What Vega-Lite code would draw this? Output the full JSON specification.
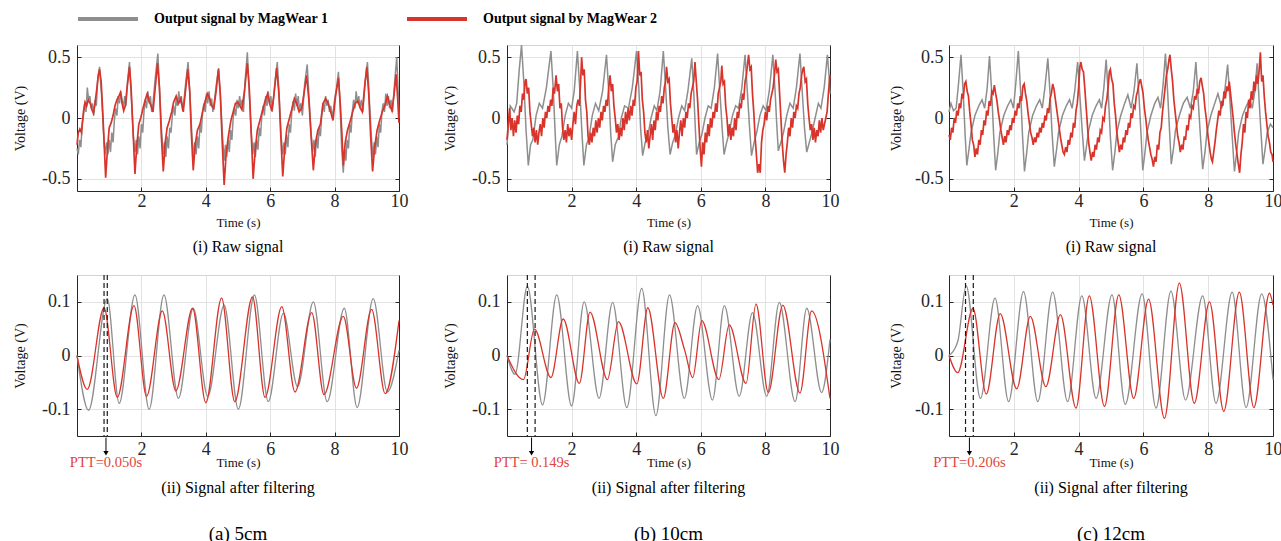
{
"$schema": "https://vega.github.io/schema/vega-lite/v6.json",
"autosize": {"type": "none"},
"padding": {"left": 77, "top": 45, "right": 1204, "bottom": 496},
"config": {
 "font": "Liberation Serif",
 "view": {"stroke": "#d4d4d4", "strokeWidth": 1},
 "range": {"category": ["#8e8e8e", "#d8342b"]},
 "axis": {"labelFont": "Liberation Serif", "labelFontSize": 18, "labelColor": "#262626", "labelFlush": false, "titleFont": "Liberation Serif", "titleFontWeight": "normal", "titleColor": "#111111", "titleFontSize": 13, "domainColor": "#262626", "domainWidth": 1, "tickColor": "#262626", "tickSize": -4, "gridColor": "#e2e2e2", "gridWidth": 1, "labelPadding": 11},
 "axisY": {"titleFontSize": 14, "titlePadding": 14},
 "title": {"orient": "bottom", "anchor": "middle", "frame": "group", "font": "Liberation Serif", "fontSize": 16, "fontWeight": "normal", "color": "#000000", "offset": 10, "subtitleFont": "Liberation Serif", "subtitleFontSize": 19, "subtitleColor": "#000000", "subtitlePadding": 29},
 "legend": {"labelFont": "Liberation Serif", "labelFontSize": 14, "labelFontWeight": "bold", "labelColor": "#000000", "symbolStrokeWidth": 4, "symbolSize": 3600, "symbolType": "stroke", "labelOffset": 14, "columnPadding": 70, "labelLimit": 400, "padding": 0}
},
"datasets": {
"aR1": [{"t":0,"v":-0.25},{"t":0.04,"v":-0.3},{"t":0.08,"v":-0.18},{"t":0.12,"v":-0.24},{"t":0.16,"v":-0.05},{"t":0.2,"v":0.02},{"t":0.24,"v":0.12},{"t":0.28,"v":0.05},{"t":0.32,"v":0.25},{"t":0.36,"v":0.15},{"t":0.4,"v":0.18},{"t":0.44,"v":0.08},{"t":0.48,"v":0.12},{"t":0.52,"v":0.02},{"t":0.56,"v":0.15},{"t":0.6,"v":0.1},{"t":0.64,"v":0.3},{"t":0.7,"v":0.42},{"t":0.76,"v":0.2},{"t":0.82,"v":-0.1},{"t":0.87,"v":-0.3},{"t":0.92,"v":-0.2},{"t":0.96,"v":-0.3},{"t":1,"v":-0.18},{"t":1.04,"v":-0.28},{"t":1.08,"v":-0.12},{"t":1.12,"v":-0.2},{"t":1.16,"v":-0.02},{"t":1.2,"v":0.08},{"t":1.24,"v":0.02},{"t":1.28,"v":0.18},{"t":1.32,"v":0.12},{"t":1.36,"v":0.22},{"t":1.4,"v":0.15},{"t":1.44,"v":0.08},{"t":1.48,"v":0.18},{"t":1.52,"v":0.1},{"t":1.57,"v":0.3},{"t":1.63,"v":0.46},{"t":1.69,"v":0.15},{"t":1.75,"v":-0.15},{"t":1.8,"v":-0.28},{"t":1.84,"v":-0.18},{"t":1.88,"v":-0.3},{"t":1.92,"v":-0.15},{"t":1.96,"v":-0.25},{"t":2,"v":-0.05},{"t":2.04,"v":-0.12},{"t":2.08,"v":0.05},{"t":2.12,"v":0.15},{"t":2.16,"v":0.08},{"t":2.2,"v":0.22},{"t":2.24,"v":0.12},{"t":2.28,"v":0.18},{"t":2.32,"v":0.05},{"t":2.36,"v":0.12},{"t":2.42,"v":0.3},{"t":2.51,"v":0.53},{"t":2.57,"v":0.2},{"t":2.63,"v":-0.12},{"t":2.68,"v":-0.3},{"t":2.72,"v":-0.2},{"t":2.76,"v":-0.32},{"t":2.8,"v":-0.15},{"t":2.84,"v":-0.25},{"t":2.88,"v":-0.08},{"t":2.92,"v":-0.12},{"t":2.96,"v":0.02},{"t":3,"v":0.1},{"t":3.04,"v":0.02},{"t":3.08,"v":0.16},{"t":3.12,"v":0.1},{"t":3.16,"v":0.22},{"t":3.2,"v":0.12},{"t":3.24,"v":0.18},{"t":3.28,"v":0.06},{"t":3.32,"v":0.14},{"t":3.38,"v":0.3},{"t":3.45,"v":0.46},{"t":3.51,"v":0.18},{"t":3.57,"v":-0.15},{"t":3.62,"v":-0.32},{"t":3.66,"v":-0.2},{"t":3.7,"v":-0.3},{"t":3.74,"v":-0.15},{"t":3.78,"v":-0.25},{"t":3.82,"v":-0.05},{"t":3.86,"v":-0.12},{"t":3.9,"v":0.05},{"t":3.94,"v":0.12},{"t":3.98,"v":0.05},{"t":4.02,"v":0.2},{"t":4.06,"v":0.12},{"t":4.1,"v":0.22},{"t":4.14,"v":0.1},{"t":4.18,"v":0.16},{"t":4.22,"v":0.05},{"t":4.27,"v":0.15},{"t":4.33,"v":0.28},{"t":4.4,"v":0.41},{"t":4.46,"v":0.15},{"t":4.52,"v":-0.15},{"t":4.57,"v":-0.35},{"t":4.61,"v":-0.22},{"t":4.65,"v":-0.32},{"t":4.69,"v":-0.18},{"t":4.73,"v":-0.28},{"t":4.77,"v":-0.1},{"t":4.81,"v":-0.18},{"t":4.85,"v":0},{"t":4.89,"v":0.08},{"t":4.93,"v":0.02},{"t":4.97,"v":0.15},{"t":5.01,"v":0.08},{"t":5.05,"v":0.18},{"t":5.09,"v":0.1},{"t":5.13,"v":0.15},{"t":5.17,"v":0.05},{"t":5.22,"v":0.3},{"t":5.29,"v":0.54},{"t":5.35,"v":0.2},{"t":5.41,"v":-0.12},{"t":5.46,"v":-0.3},{"t":5.5,"v":-0.2},{"t":5.54,"v":-0.32},{"t":5.58,"v":-0.18},{"t":5.62,"v":-0.26},{"t":5.66,"v":-0.08},{"t":5.7,"v":-0.15},{"t":5.74,"v":0.02},{"t":5.78,"v":0.1},{"t":5.82,"v":0.02},{"t":5.86,"v":0.18},{"t":5.9,"v":0.1},{"t":5.94,"v":0.22},{"t":5.98,"v":0.12},{"t":6.02,"v":0.18},{"t":6.06,"v":0.05},{"t":6.1,"v":0.14},{"t":6.15,"v":0.3},{"t":6.22,"v":0.46},{"t":6.28,"v":0.18},{"t":6.34,"v":-0.15},{"t":6.39,"v":-0.3},{"t":6.43,"v":-0.2},{"t":6.47,"v":-0.3},{"t":6.51,"v":-0.14},{"t":6.55,"v":-0.24},{"t":6.59,"v":-0.05},{"t":6.63,"v":-0.12},{"t":6.67,"v":0.05},{"t":6.71,"v":0.14},{"t":6.75,"v":0.06},{"t":6.79,"v":0.2},{"t":6.83,"v":0.1},{"t":6.87,"v":0.18},{"t":6.91,"v":0.06},{"t":6.95,"v":0.12},{"t":7,"v":0.02},{"t":7.07,"v":0.28},{"t":7.15,"v":0.44},{"t":7.21,"v":0.15},{"t":7.27,"v":-0.12},{"t":7.32,"v":-0.28},{"t":7.36,"v":-0.18},{"t":7.4,"v":-0.32},{"t":7.44,"v":-0.15},{"t":7.48,"v":-0.25},{"t":7.52,"v":-0.08},{"t":7.56,"v":-0.15},{"t":7.6,"v":0.02},{"t":7.64,"v":0.12},{"t":7.68,"v":0.05},{"t":7.72,"v":0.18},{"t":7.76,"v":0.1},{"t":7.8,"v":0.15},{"t":7.84,"v":0.05},{"t":7.88,"v":0.1},{"t":7.93,"v":0},{"t":8,"v":0.15},{"t":8.06,"v":0.25},{"t":8.12,"v":0.38},{"t":8.17,"v":0.1},{"t":8.22,"v":-0.25},{"t":8.27,"v":-0.45},{"t":8.31,"v":-0.25},{"t":8.35,"v":-0.35},{"t":8.39,"v":-0.18},{"t":8.43,"v":-0.25},{"t":8.47,"v":-0.05},{"t":8.51,"v":-0.12},{"t":8.55,"v":0.05},{"t":8.59,"v":0.15},{"t":8.63,"v":0.08},{"t":8.67,"v":0.22},{"t":8.71,"v":0.12},{"t":8.75,"v":0.18},{"t":8.79,"v":0.08},{"t":8.83,"v":0.15},{"t":8.88,"v":0.05},{"t":8.95,"v":0.3},{"t":9.02,"v":0.46},{"t":9.08,"v":0.15},{"t":9.14,"v":-0.15},{"t":9.19,"v":-0.32},{"t":9.23,"v":-0.2},{"t":9.27,"v":-0.3},{"t":9.31,"v":-0.15},{"t":9.35,"v":-0.24},{"t":9.39,"v":-0.05},{"t":9.43,"v":-0.12},{"t":9.47,"v":0.05},{"t":9.51,"v":0.12},{"t":9.55,"v":0.05},{"t":9.59,"v":0.2},{"t":9.63,"v":0.1},{"t":9.67,"v":0.18},{"t":9.71,"v":0.08},{"t":9.75,"v":0.15},{"t":9.8,"v":0.05},{"t":9.86,"v":0.28},{"t":9.93,"v":0.5},{"t":9.97,"v":0.25},{"t":10,"v":0}],
"aR2": [{"t":0,"v":-0.22},{"t":0.04,"v":-0.12},{"t":0.09,"v":-0.09},{"t":0.14,"v":-0.12},{"t":0.2,"v":0.05},{"t":0.25,"v":0.13},{"t":0.3,"v":0.1},{"t":0.35,"v":0.15},{"t":0.41,"v":0.12},{"t":0.46,"v":0.07},{"t":0.51,"v":0.04},{"t":0.56,"v":0.12},{"t":0.62,"v":0.25},{"t":0.66,"v":0.35},{"t":0.7,"v":0.4},{"t":0.75,"v":0.3},{"t":0.8,"v":0.05},{"t":0.85,"v":-0.25},{"t":0.89,"v":-0.49},{"t":0.94,"v":-0.28},{"t":1,"v":-0.08},{"t":1.06,"v":-0.04},{"t":1.12,"v":0.02},{"t":1.18,"v":0.1},{"t":1.24,"v":0.15},{"t":1.3,"v":0.18},{"t":1.35,"v":0.21},{"t":1.4,"v":0.12},{"t":1.45,"v":0.06},{"t":1.5,"v":0.1},{"t":1.56,"v":0.26},{"t":1.63,"v":0.42},{"t":1.68,"v":0.25},{"t":1.74,"v":-0.1},{"t":1.8,"v":-0.46},{"t":1.85,"v":-0.25},{"t":1.92,"v":-0.05},{"t":1.98,"v":0},{"t":2.05,"v":0.08},{"t":2.12,"v":0.15},{"t":2.18,"v":0.2},{"t":2.24,"v":0.14},{"t":2.3,"v":0.1},{"t":2.36,"v":0.05},{"t":2.42,"v":0.22},{"t":2.5,"v":0.45},{"t":2.56,"v":0.25},{"t":2.62,"v":-0.15},{"t":2.68,"v":-0.44},{"t":2.74,"v":-0.2},{"t":2.8,"v":-0.08},{"t":2.87,"v":-0.02},{"t":2.94,"v":0.05},{"t":3,"v":0.13},{"t":3.08,"v":0.18},{"t":3.15,"v":0.12},{"t":3.22,"v":0.16},{"t":3.3,"v":0.05},{"t":3.36,"v":0.2},{"t":3.44,"v":0.4},{"t":3.5,"v":0.22},{"t":3.55,"v":-0.12},{"t":3.61,"v":-0.43},{"t":3.67,"v":-0.22},{"t":3.74,"v":-0.1},{"t":3.82,"v":-0.05},{"t":3.9,"v":0.05},{"t":3.98,"v":0.14},{"t":4.05,"v":0.2},{"t":4.12,"v":0.16},{"t":4.18,"v":0.1},{"t":4.25,"v":0.08},{"t":4.32,"v":0.22},{"t":4.39,"v":0.4},{"t":4.45,"v":0.2},{"t":4.51,"v":-0.2},{"t":4.57,"v":-0.55},{"t":4.63,"v":-0.3},{"t":4.7,"v":-0.15},{"t":4.78,"v":-0.02},{"t":4.85,"v":0.05},{"t":4.92,"v":0.12},{"t":5,"v":0.13},{"t":5.06,"v":0.1},{"t":5.12,"v":0.07},{"t":5.2,"v":0.22},{"t":5.29,"v":0.45},{"t":5.35,"v":0.25},{"t":5.41,"v":-0.12},{"t":5.47,"v":-0.5},{"t":5.53,"v":-0.28},{"t":5.6,"v":-0.1},{"t":5.68,"v":-0.02},{"t":5.76,"v":0.06},{"t":5.84,"v":0.14},{"t":5.92,"v":0.2},{"t":5.98,"v":0.12},{"t":6.05,"v":0.06},{"t":6.12,"v":0.2},{"t":6.2,"v":0.41},{"t":6.27,"v":0.2},{"t":6.33,"v":-0.15},{"t":6.39,"v":-0.48},{"t":6.45,"v":-0.25},{"t":6.52,"v":-0.08},{"t":6.6,"v":0},{"t":6.68,"v":0.08},{"t":6.75,"v":0.16},{"t":6.82,"v":0.12},{"t":6.9,"v":0.05},{"t":6.98,"v":0.08},{"t":7.06,"v":0.22},{"t":7.13,"v":0.35},{"t":7.2,"v":0.15},{"t":7.27,"v":-0.15},{"t":7.34,"v":-0.43},{"t":7.4,"v":-0.22},{"t":7.48,"v":-0.1},{"t":7.56,"v":-0.05},{"t":7.64,"v":0.12},{"t":7.72,"v":0.16},{"t":7.8,"v":0.12},{"t":7.88,"v":0.05},{"t":7.95,"v":-0.02},{"t":8.03,"v":0.18},{"t":8.12,"v":0.33},{"t":8.18,"v":0.1},{"t":8.23,"v":-0.15},{"t":8.27,"v":-0.39},{"t":8.33,"v":-0.2},{"t":8.4,"v":-0.1},{"t":8.48,"v":-0.03},{"t":8.56,"v":0.05},{"t":8.64,"v":0.12},{"t":8.72,"v":0.14},{"t":8.8,"v":0.08},{"t":8.86,"v":0.05},{"t":8.93,"v":0.25},{"t":9,"v":0.42},{"t":9.06,"v":0.2},{"t":9.12,"v":-0.15},{"t":9.18,"v":-0.44},{"t":9.24,"v":-0.25},{"t":9.32,"v":-0.1},{"t":9.4,"v":-0.02},{"t":9.48,"v":0.05},{"t":9.56,"v":0.1},{"t":9.64,"v":0.18},{"t":9.72,"v":0.1},{"t":9.78,"v":0.06},{"t":9.85,"v":0.2},{"t":9.91,"v":0.36},{"t":9.96,"v":0.15},{"t":10,"v":-0.04}],
"aF1": [{"t":0,"v":0},{"t":0.36,"v":-0.102},{"t":0.94,"v":0.106},{"t":1.31,"v":-0.089},{"t":1.8,"v":0.113},{"t":2.24,"v":-0.1},{"t":2.7,"v":0.113},{"t":3.15,"v":-0.08},{"t":3.61,"v":0.088},{"t":4.06,"v":-0.076},{"t":4.57,"v":0.094},{"t":5.01,"v":-0.1},{"t":5.51,"v":0.113},{"t":5.94,"v":-0.086},{"t":6.41,"v":0.079},{"t":6.85,"v":-0.058},{"t":7.34,"v":0.1},{"t":7.77,"v":-0.086},{"t":8.3,"v":0.088},{"t":8.7,"v":-0.097},{"t":9.2,"v":0.106},{"t":9.64,"v":-0.068},{"t":10,"v":0.01}],
"aF2": [{"t":0,"v":0},{"t":0.32,"v":-0.063},{"t":0.84,"v":0.089},{"t":1.25,"v":-0.078},{"t":1.77,"v":0.093},{"t":2.16,"v":-0.076},{"t":2.65,"v":0.083},{"t":3.07,"v":-0.066},{"t":3.59,"v":0.088},{"t":4,"v":-0.088},{"t":4.49,"v":0.107},{"t":4.9,"v":-0.086},{"t":5.45,"v":0.109},{"t":5.84,"v":-0.078},{"t":6.36,"v":0.091},{"t":6.77,"v":-0.068},{"t":7.29,"v":0.08},{"t":7.67,"v":-0.073},{"t":8.27,"v":0.073},{"t":8.68,"v":-0.061},{"t":9.15,"v":0.086},{"t":9.57,"v":-0.071},{"t":10,"v":0.065}],
"aD": [{"t":0.84},{"t":0.94}],
"aP": [{"t":0.9,"label":"PTT=0.050s"}],
"bR1": [{"t":0,"v":-0.22},{"t":0.05,"v":-0.05},{"t":0.1,"v":0.1},{"t":0.15,"v":0.08},{"t":0.22,"v":0.05},{"t":0.3,"v":0.12},{"t":0.38,"v":0.4},{"t":0.45,"v":0.6},{"t":0.52,"v":0.3},{"t":0.59,"v":-0.1},{"t":0.66,"v":-0.39},{"t":0.73,"v":-0.22},{"t":0.8,"v":-0.18},{"t":0.9,"v":0.02},{"t":1,"v":0.12},{"t":1.1,"v":0.08},{"t":1.22,"v":0.25},{"t":1.36,"v":0.55},{"t":1.43,"v":0.25},{"t":1.49,"v":-0.12},{"t":1.54,"v":-0.39},{"t":1.62,"v":-0.22},{"t":1.7,"v":-0.15},{"t":1.8,"v":0.02},{"t":1.9,"v":0.12},{"t":2,"v":0.08},{"t":2.08,"v":0.22},{"t":2.18,"v":0.55},{"t":2.25,"v":0.25},{"t":2.32,"v":-0.12},{"t":2.38,"v":-0.39},{"t":2.46,"v":-0.22},{"t":2.54,"v":-0.16},{"t":2.64,"v":0.02},{"t":2.74,"v":0.12},{"t":2.84,"v":0.06},{"t":2.96,"v":0.22},{"t":3.08,"v":0.52},{"t":3.15,"v":0.22},{"t":3.21,"v":-0.12},{"t":3.27,"v":-0.36},{"t":3.35,"v":-0.22},{"t":3.44,"v":-0.16},{"t":3.54,"v":0},{"t":3.64,"v":0.1},{"t":3.76,"v":0.08},{"t":3.88,"v":0.25},{"t":4.01,"v":0.55},{"t":4.08,"v":0.25},{"t":4.14,"v":-0.1},{"t":4.2,"v":-0.31},{"t":4.28,"v":-0.2},{"t":4.36,"v":-0.15},{"t":4.46,"v":0},{"t":4.56,"v":0.1},{"t":4.64,"v":0.06},{"t":4.74,"v":0.22},{"t":4.84,"v":0.55},{"t":4.91,"v":0.25},{"t":4.98,"v":-0.08},{"t":5.05,"v":-0.3},{"t":5.13,"v":-0.2},{"t":5.21,"v":-0.14},{"t":5.31,"v":0},{"t":5.41,"v":0.1},{"t":5.5,"v":0.06},{"t":5.6,"v":0.22},{"t":5.72,"v":0.49},{"t":5.78,"v":0.22},{"t":5.83,"v":-0.08},{"t":5.87,"v":-0.3},{"t":5.95,"v":-0.2},{"t":6.03,"v":-0.14},{"t":6.13,"v":0},{"t":6.23,"v":0.1},{"t":6.32,"v":0.08},{"t":6.42,"v":0.25},{"t":6.52,"v":0.53},{"t":6.59,"v":0.22},{"t":6.66,"v":-0.08},{"t":6.72,"v":-0.3},{"t":6.8,"v":-0.2},{"t":6.88,"v":-0.12},{"t":6.98,"v":0.02},{"t":7.08,"v":0.1},{"t":7.17,"v":0.08},{"t":7.27,"v":0.25},{"t":7.37,"v":0.52},{"t":7.44,"v":0.22},{"t":7.51,"v":-0.08},{"t":7.57,"v":-0.31},{"t":7.65,"v":-0.2},{"t":7.73,"v":-0.12},{"t":7.83,"v":0.02},{"t":7.93,"v":0.1},{"t":8.02,"v":0.06},{"t":8.12,"v":0.22},{"t":8.23,"v":0.52},{"t":8.3,"v":0.22},{"t":8.35,"v":-0.05},{"t":8.4,"v":-0.27},{"t":8.48,"v":-0.2},{"t":8.56,"v":-0.12},{"t":8.66,"v":0.02},{"t":8.76,"v":0.12},{"t":8.86,"v":0.08},{"t":8.96,"v":0.25},{"t":9.07,"v":0.53},{"t":9.14,"v":0.22},{"t":9.21,"v":-0.08},{"t":9.28,"v":-0.28},{"t":9.36,"v":-0.2},{"t":9.44,"v":-0.12},{"t":9.54,"v":0},{"t":9.64,"v":0.12},{"t":9.72,"v":0.08},{"t":9.82,"v":0.25},{"t":9.92,"v":0.52},{"t":9.97,"v":0.35},{"t":10,"v":0.2}],
"bR2": [{"t":0,"v":-0.18},{"t":0.04,"v":-0.05},{"t":0.08,"v":0.08},{"t":0.12,"v":-0.1},{"t":0.16,"v":0},{"t":0.2,"v":-0.15},{"t":0.24,"v":-0.02},{"t":0.28,"v":-0.12},{"t":0.32,"v":0.02},{"t":0.36,"v":-0.05},{"t":0.4,"v":0.1},{"t":0.44,"v":0.05},{"t":0.48,"v":0.2},{"t":0.52,"v":0.15},{"t":0.56,"v":0.3},{"t":0.59,"v":0.32},{"t":0.63,"v":0.2},{"t":0.67,"v":0.25},{"t":0.71,"v":0.05},{"t":0.75,"v":-0.05},{"t":0.79,"v":-0.15},{"t":0.83,"v":-0.08},{"t":0.87,"v":-0.2},{"t":0.91,"v":-0.1},{"t":0.95,"v":-0.22},{"t":0.99,"v":-0.12},{"t":1.03,"v":-0.05},{"t":1.07,"v":-0.15},{"t":1.11,"v":0},{"t":1.15,"v":-0.08},{"t":1.19,"v":0.05},{"t":1.23,"v":0},{"t":1.27,"v":0.1},{"t":1.31,"v":0.05},{"t":1.35,"v":0.15},{"t":1.39,"v":0.1},{"t":1.43,"v":0.25},{"t":1.47,"v":0.2},{"t":1.52,"v":0.35},{"t":1.56,"v":0.22},{"t":1.6,"v":0.28},{"t":1.64,"v":0.08},{"t":1.68,"v":0.12},{"t":1.72,"v":-0.08},{"t":1.76,"v":-0.18},{"t":1.8,"v":-0.1},{"t":1.84,"v":-0.2},{"t":1.88,"v":-0.05},{"t":1.92,"v":-0.15},{"t":1.96,"v":-0.08},{"t":2,"v":-0.18},{"t":2.04,"v":-0.05},{"t":2.08,"v":0.05},{"t":2.12,"v":-0.05},{"t":2.16,"v":0.1},{"t":2.2,"v":0.15},{"t":2.24,"v":0.1},{"t":2.28,"v":0.3},{"t":2.31,"v":0.5},{"t":2.35,"v":0.35},{"t":2.39,"v":0.4},{"t":2.43,"v":0.15},{"t":2.47,"v":0.05},{"t":2.51,"v":-0.15},{"t":2.55,"v":-0.22},{"t":2.59,"v":-0.12},{"t":2.63,"v":-0.2},{"t":2.67,"v":-0.08},{"t":2.71,"v":-0.15},{"t":2.75,"v":-0.02},{"t":2.79,"v":-0.12},{"t":2.83,"v":0},{"t":2.87,"v":-0.08},{"t":2.91,"v":0.05},{"t":2.95,"v":-0.02},{"t":2.99,"v":0.1},{"t":3.03,"v":0.05},{"t":3.07,"v":0.15},{"t":3.11,"v":0.1},{"t":3.15,"v":0.25},{"t":3.19,"v":0.35},{"t":3.23,"v":0.22},{"t":3.27,"v":0.28},{"t":3.31,"v":0.1},{"t":3.35,"v":0},{"t":3.39,"v":-0.12},{"t":3.43,"v":-0.05},{"t":3.47,"v":-0.18},{"t":3.51,"v":-0.08},{"t":3.55,"v":-0.15},{"t":3.59,"v":0},{"t":3.63,"v":-0.1},{"t":3.67,"v":0.05},{"t":3.71,"v":-0.05},{"t":3.75,"v":0.08},{"t":3.79,"v":-0.02},{"t":3.83,"v":0.1},{"t":3.87,"v":0.02},{"t":3.91,"v":0.15},{"t":3.95,"v":0.1},{"t":3.99,"v":0.25},{"t":4.03,"v":0.3},{"t":4.07,"v":0.55},{"t":4.11,"v":0.35},{"t":4.15,"v":0.38},{"t":4.19,"v":0.15},{"t":4.23,"v":0.05},{"t":4.27,"v":-0.12},{"t":4.31,"v":-0.2},{"t":4.35,"v":-0.1},{"t":4.39,"v":-0.25},{"t":4.43,"v":-0.15},{"t":4.47,"v":-0.05},{"t":4.51,"v":-0.18},{"t":4.55,"v":-0.02},{"t":4.59,"v":-0.1},{"t":4.63,"v":0.05},{"t":4.67,"v":-0.02},{"t":4.71,"v":0.1},{"t":4.75,"v":0.05},{"t":4.79,"v":0.18},{"t":4.83,"v":0.12},{"t":4.87,"v":0.25},{"t":4.91,"v":0.3},{"t":4.94,"v":0.42},{"t":4.98,"v":0.3},{"t":5.02,"v":0.32},{"t":5.06,"v":0.12},{"t":5.1,"v":0},{"t":5.14,"v":-0.12},{"t":5.18,"v":-0.05},{"t":5.22,"v":-0.2},{"t":5.26,"v":-0.1},{"t":5.3,"v":-0.25},{"t":5.34,"v":-0.12},{"t":5.38,"v":-0.02},{"t":5.42,"v":-0.15},{"t":5.46,"v":0},{"t":5.5,"v":-0.08},{"t":5.54,"v":0.05},{"t":5.58,"v":0},{"t":5.62,"v":0.12},{"t":5.66,"v":0.08},{"t":5.7,"v":0.2},{"t":5.74,"v":0.25},{"t":5.78,"v":0.3},{"t":5.82,"v":0.46},{"t":5.86,"v":0.3},{"t":5.9,"v":0.15},{"t":5.94,"v":-0.05},{"t":5.98,"v":-0.25},{"t":6.02,"v":-0.4},{"t":6.06,"v":-0.2},{"t":6.1,"v":-0.3},{"t":6.14,"v":-0.12},{"t":6.18,"v":-0.2},{"t":6.22,"v":-0.05},{"t":6.26,"v":-0.15},{"t":6.3,"v":0},{"t":6.34,"v":-0.08},{"t":6.38,"v":0.05},{"t":6.42,"v":0},{"t":6.46,"v":0.12},{"t":6.5,"v":0.05},{"t":6.54,"v":0.2},{"t":6.58,"v":0.25},{"t":6.62,"v":0.3},{"t":6.65,"v":0.43},{"t":6.69,"v":0.28},{"t":6.73,"v":0.3},{"t":6.77,"v":0.1},{"t":6.81,"v":0},{"t":6.85,"v":-0.15},{"t":6.89,"v":-0.05},{"t":6.93,"v":-0.18},{"t":6.97,"v":-0.08},{"t":7.01,"v":-0.15},{"t":7.05,"v":0},{"t":7.09,"v":-0.1},{"t":7.13,"v":0.05},{"t":7.17,"v":0},{"t":7.21,"v":0.12},{"t":7.25,"v":0.08},{"t":7.29,"v":0.2},{"t":7.33,"v":0.15},{"t":7.37,"v":0.3},{"t":7.41,"v":0.35},{"t":7.45,"v":0.45},{"t":7.48,"v":0.52},{"t":7.52,"v":0.4},{"t":7.56,"v":0.42},{"t":7.6,"v":0.2},{"t":7.64,"v":0.05},{"t":7.68,"v":-0.15},{"t":7.72,"v":-0.3},{"t":7.76,"v":-0.45},{"t":7.8,"v":-0.38},{"t":7.84,"v":-0.45},{"t":7.88,"v":-0.2},{"t":7.92,"v":-0.1},{"t":7.96,"v":-0.05},{"t":8,"v":0.05},{"t":8.04,"v":-0.02},{"t":8.08,"v":0.1},{"t":8.12,"v":0.05},{"t":8.16,"v":0.15},{"t":8.2,"v":0.2},{"t":8.24,"v":0.25},{"t":8.28,"v":0.35},{"t":8.32,"v":0.48},{"t":8.36,"v":0.38},{"t":8.4,"v":0.4},{"t":8.44,"v":0.2},{"t":8.48,"v":0},{"t":8.52,"v":-0.2},{"t":8.56,"v":-0.35},{"t":8.6,"v":-0.45},{"t":8.64,"v":-0.3},{"t":8.68,"v":-0.2},{"t":8.72,"v":-0.08},{"t":8.76,"v":-0.15},{"t":8.8,"v":0},{"t":8.84,"v":-0.08},{"t":8.88,"v":0.05},{"t":8.92,"v":0},{"t":8.96,"v":0.1},{"t":9,"v":0.08},{"t":9.04,"v":0.2},{"t":9.08,"v":0.25},{"t":9.12,"v":0.35},{"t":9.16,"v":0.4},{"t":9.19,"v":0.42},{"t":9.23,"v":0.3},{"t":9.27,"v":0.32},{"t":9.31,"v":0.12},{"t":9.35,"v":0},{"t":9.39,"v":-0.1},{"t":9.43,"v":-0.05},{"t":9.47,"v":-0.18},{"t":9.51,"v":-0.08},{"t":9.55,"v":-0.2},{"t":9.59,"v":-0.1},{"t":9.63,"v":-0.15},{"t":9.67,"v":-0.02},{"t":9.71,"v":-0.12},{"t":9.75,"v":0},{"t":9.79,"v":-0.1},{"t":9.83,"v":-0.05},{"t":9.87,"v":0},{"t":9.91,"v":0.05},{"t":9.95,"v":0.2},{"t":10,"v":0.35}],
"bF1": [{"t":0,"v":0},{"t":0.25,"v":-0.035},{"t":0.63,"v":0.129},{"t":1.1,"v":-0.092},{"t":1.54,"v":0.113},{"t":2,"v":-0.094},{"t":2.39,"v":0.1},{"t":2.85,"v":-0.08},{"t":3.27,"v":0.099},{"t":3.71,"v":-0.097},{"t":4.17,"v":0.125},{"t":4.61,"v":-0.112},{"t":5.03,"v":0.113},{"t":5.49,"v":-0.08},{"t":5.9,"v":0.093},{"t":6.36,"v":-0.083},{"t":6.73,"v":0.093},{"t":7.19,"v":-0.076},{"t":7.6,"v":0.08},{"t":8.04,"v":-0.076},{"t":8.43,"v":0.099},{"t":8.92,"v":-0.086},{"t":9.28,"v":0.088},{"t":9.74,"v":-0.069},{"t":10,"v":0.03}],
"bF2": [{"t":0,"v":0},{"t":0.51,"v":-0.045},{"t":0.85,"v":0.049},{"t":1.36,"v":-0.041},{"t":1.74,"v":0.068},{"t":2.24,"v":-0.052},{"t":2.57,"v":0.081},{"t":3.11,"v":-0.045},{"t":3.45,"v":0.063},{"t":4.02,"v":-0.053},{"t":4.36,"v":0.089},{"t":4.84,"v":-0.08},{"t":5.2,"v":0.061},{"t":5.5,"v":0.01},{"t":5.75,"v":-0.041},{"t":6.03,"v":0.065},{"t":6.56,"v":-0.045},{"t":6.88,"v":0.057},{"t":7.4,"v":-0.052},{"t":7.71,"v":0.096},{"t":8.09,"v":-0.069},{"t":8.54,"v":0.094},{"t":9.07,"v":-0.07},{"t":9.43,"v":0.083},{"t":10,"v":-0.08}],
"bD": [{"t":0.63},{"t":0.87}],
"bP": [{"t":0.76,"label":"PTT= 0.149s"}],
"cR1": [{"t":0,"v":0.05},{"t":0.06,"v":0.12},{"t":0.14,"v":0.06},{"t":0.22,"v":0.08},{"t":0.3,"v":0.3},{"t":0.37,"v":0.52},{"t":0.44,"v":0.2},{"t":0.5,"v":-0.15},{"t":0.55,"v":-0.39},{"t":0.62,"v":-0.25},{"t":0.68,"v":-0.12},{"t":0.8,"v":0.02},{"t":0.92,"v":0.1},{"t":1.02,"v":0.15},{"t":1.1,"v":0.08},{"t":1.18,"v":0.25},{"t":1.25,"v":0.51},{"t":1.32,"v":0.2},{"t":1.38,"v":-0.15},{"t":1.44,"v":-0.43},{"t":1.51,"v":-0.28},{"t":1.57,"v":-0.12},{"t":1.69,"v":0.02},{"t":1.81,"v":0.1},{"t":1.91,"v":0.15},{"t":1.99,"v":0.08},{"t":2.06,"v":0.28},{"t":2.14,"v":0.55},{"t":2.21,"v":0.22},{"t":2.27,"v":-0.15},{"t":2.33,"v":-0.44},{"t":2.4,"v":-0.28},{"t":2.46,"v":-0.12},{"t":2.58,"v":0.02},{"t":2.7,"v":0.1},{"t":2.8,"v":0.15},{"t":2.88,"v":0.08},{"t":2.96,"v":0.25},{"t":3.05,"v":0.49},{"t":3.12,"v":0.2},{"t":3.18,"v":-0.12},{"t":3.25,"v":-0.4},{"t":3.32,"v":-0.26},{"t":3.38,"v":-0.12},{"t":3.5,"v":0.02},{"t":3.62,"v":0.1},{"t":3.72,"v":0.15},{"t":3.8,"v":0.08},{"t":3.88,"v":0.22},{"t":3.97,"v":0.46},{"t":4.04,"v":0.18},{"t":4.11,"v":-0.1},{"t":4.18,"v":-0.35},{"t":4.25,"v":-0.22},{"t":4.31,"v":-0.1},{"t":4.42,"v":0.02},{"t":4.54,"v":0.1},{"t":4.64,"v":0.15},{"t":4.71,"v":0.08},{"t":4.78,"v":0.25},{"t":4.85,"v":0.48},{"t":4.92,"v":0.18},{"t":4.98,"v":-0.15},{"t":5.05,"v":-0.43},{"t":5.12,"v":-0.28},{"t":5.18,"v":-0.12},{"t":5.3,"v":0.02},{"t":5.42,"v":0.12},{"t":5.52,"v":0.19},{"t":5.62,"v":0.08},{"t":5.71,"v":0.22},{"t":5.8,"v":0.45},{"t":5.87,"v":0.15},{"t":5.93,"v":-0.15},{"t":5.98,"v":-0.43},{"t":6.05,"v":-0.28},{"t":6.11,"v":-0.12},{"t":6.23,"v":0.02},{"t":6.35,"v":0.12},{"t":6.45,"v":0.17},{"t":6.53,"v":0.08},{"t":6.61,"v":0.28},{"t":6.68,"v":0.53},{"t":6.75,"v":0.2},{"t":6.81,"v":-0.12},{"t":6.86,"v":-0.38},{"t":6.93,"v":-0.25},{"t":6.99,"v":-0.1},{"t":7.11,"v":0.02},{"t":7.23,"v":0.12},{"t":7.35,"v":0.17},{"t":7.45,"v":0.08},{"t":7.54,"v":0.22},{"t":7.62,"v":0.46},{"t":7.69,"v":0.15},{"t":7.76,"v":-0.15},{"t":7.83,"v":-0.42},{"t":7.9,"v":-0.28},{"t":7.96,"v":-0.12},{"t":8.08,"v":0.02},{"t":8.2,"v":0.12},{"t":8.3,"v":0.2},{"t":8.42,"v":0.08},{"t":8.51,"v":0.22},{"t":8.6,"v":0.44},{"t":8.67,"v":0.15},{"t":8.74,"v":-0.15},{"t":8.81,"v":-0.44},{"t":8.88,"v":-0.28},{"t":8.94,"v":-0.12},{"t":9.06,"v":0.02},{"t":9.18,"v":0.1},{"t":9.28,"v":0.15},{"t":9.36,"v":0.08},{"t":9.44,"v":0.22},{"t":9.51,"v":0.45},{"t":9.57,"v":0.15},{"t":9.63,"v":-0.12},{"t":9.69,"v":-0.38},{"t":9.76,"v":-0.25},{"t":9.82,"v":-0.12},{"t":9.92,"v":-0.05},{"t":10,"v":-0.08}],
"cR2": [{"t":0,"v":-0.14},{"t":0.04,"v":-0.18},{"t":0.08,"v":-0.08},{"t":0.12,"v":-0.12},{"t":0.16,"v":0},{"t":0.2,"v":-0.04},{"t":0.24,"v":0.06},{"t":0.28,"v":0.02},{"t":0.32,"v":0.12},{"t":0.36,"v":0.08},{"t":0.4,"v":0.2},{"t":0.44,"v":0.16},{"t":0.48,"v":0.28},{"t":0.52,"v":0.3},{"t":0.56,"v":0.22},{"t":0.6,"v":0.18},{"t":0.64,"v":0.05},{"t":0.68,"v":-0.05},{"t":0.72,"v":-0.18},{"t":0.76,"v":-0.22},{"t":0.8,"v":-0.32},{"t":0.84,"v":-0.25},{"t":0.88,"v":-0.3},{"t":0.92,"v":-0.18},{"t":0.96,"v":-0.22},{"t":1,"v":-0.1},{"t":1.04,"v":-0.14},{"t":1.08,"v":-0.02},{"t":1.12,"v":-0.06},{"t":1.16,"v":0.06},{"t":1.2,"v":0.02},{"t":1.24,"v":0.14},{"t":1.28,"v":0.1},{"t":1.32,"v":0.22},{"t":1.36,"v":0.2},{"t":1.4,"v":0.27},{"t":1.44,"v":0.2},{"t":1.48,"v":0.14},{"t":1.52,"v":0.05},{"t":1.56,"v":-0.02},{"t":1.6,"v":-0.1},{"t":1.64,"v":-0.16},{"t":1.68,"v":-0.22},{"t":1.72,"v":-0.15},{"t":1.76,"v":-0.2},{"t":1.8,"v":-0.1},{"t":1.84,"v":-0.14},{"t":1.88,"v":-0.06},{"t":1.92,"v":-0.1},{"t":1.96,"v":0},{"t":2,"v":-0.04},{"t":2.04,"v":0.06},{"t":2.08,"v":0.02},{"t":2.12,"v":0.12},{"t":2.16,"v":0.08},{"t":2.2,"v":0.18},{"t":2.24,"v":0.14},{"t":2.28,"v":0.26},{"t":2.32,"v":0.28},{"t":2.36,"v":0.2},{"t":2.4,"v":0.14},{"t":2.44,"v":0.04},{"t":2.48,"v":-0.04},{"t":2.52,"v":-0.12},{"t":2.56,"v":-0.16},{"t":2.6,"v":-0.22},{"t":2.64,"v":-0.16},{"t":2.68,"v":-0.2},{"t":2.72,"v":-0.12},{"t":2.76,"v":-0.16},{"t":2.8,"v":-0.08},{"t":2.84,"v":-0.12},{"t":2.88,"v":-0.04},{"t":2.92,"v":-0.08},{"t":2.96,"v":0.02},{"t":3,"v":-0.02},{"t":3.04,"v":0.08},{"t":3.08,"v":0.04},{"t":3.12,"v":0.16},{"t":3.16,"v":0.2},{"t":3.2,"v":0.28},{"t":3.24,"v":0.24},{"t":3.28,"v":0.16},{"t":3.32,"v":0.08},{"t":3.36,"v":0},{"t":3.4,"v":-0.08},{"t":3.44,"v":-0.16},{"t":3.48,"v":-0.22},{"t":3.52,"v":-0.28},{"t":3.56,"v":-0.3},{"t":3.6,"v":-0.24},{"t":3.64,"v":-0.28},{"t":3.68,"v":-0.18},{"t":3.72,"v":-0.22},{"t":3.76,"v":-0.12},{"t":3.8,"v":-0.16},{"t":3.84,"v":-0.04},{"t":3.88,"v":-0.08},{"t":3.92,"v":0.06},{"t":3.96,"v":0.12},{"t":4,"v":0.25},{"t":4.04,"v":0.42},{"t":4.07,"v":0.46},{"t":4.11,"v":0.4},{"t":4.15,"v":0.38},{"t":4.19,"v":0.25},{"t":4.23,"v":0.1},{"t":4.27,"v":-0.05},{"t":4.31,"v":-0.2},{"t":4.35,"v":-0.28},{"t":4.39,"v":-0.35},{"t":4.43,"v":-0.28},{"t":4.47,"v":-0.32},{"t":4.51,"v":-0.22},{"t":4.55,"v":-0.26},{"t":4.59,"v":-0.16},{"t":4.63,"v":-0.2},{"t":4.67,"v":-0.1},{"t":4.71,"v":-0.12},{"t":4.75,"v":0},{"t":4.79,"v":-0.02},{"t":4.83,"v":0.1},{"t":4.87,"v":0.15},{"t":4.91,"v":0.25},{"t":4.95,"v":0.38},{"t":4.98,"v":0.4},{"t":5.02,"v":0.32},{"t":5.06,"v":0.28},{"t":5.1,"v":0.12},{"t":5.14,"v":0.02},{"t":5.18,"v":-0.12},{"t":5.22,"v":-0.2},{"t":5.26,"v":-0.28},{"t":5.3,"v":-0.22},{"t":5.34,"v":-0.26},{"t":5.38,"v":-0.16},{"t":5.42,"v":-0.2},{"t":5.46,"v":-0.1},{"t":5.5,"v":-0.14},{"t":5.54,"v":-0.04},{"t":5.58,"v":-0.08},{"t":5.62,"v":0.04},{"t":5.66,"v":0},{"t":5.7,"v":0.1},{"t":5.74,"v":0.08},{"t":5.78,"v":0.18},{"t":5.82,"v":0.22},{"t":5.86,"v":0.28},{"t":5.91,"v":0.32},{"t":5.95,"v":0.26},{"t":5.99,"v":0.2},{"t":6.03,"v":0.08},{"t":6.07,"v":0},{"t":6.11,"v":-0.1},{"t":6.15,"v":-0.18},{"t":6.19,"v":-0.24},{"t":6.23,"v":-0.3},{"t":6.27,"v":-0.34},{"t":6.31,"v":-0.4},{"t":6.35,"v":-0.32},{"t":6.39,"v":-0.36},{"t":6.43,"v":-0.22},{"t":6.47,"v":-0.26},{"t":6.51,"v":-0.12},{"t":6.55,"v":-0.08},{"t":6.59,"v":0.05},{"t":6.63,"v":0.15},{"t":6.67,"v":0.25},{"t":6.71,"v":0.35},{"t":6.75,"v":0.4},{"t":6.79,"v":0.48},{"t":6.82,"v":0.52},{"t":6.86,"v":0.4},{"t":6.9,"v":0.3},{"t":6.94,"v":0.15},{"t":6.98,"v":0.05},{"t":7.02,"v":-0.05},{"t":7.06,"v":-0.15},{"t":7.1,"v":-0.2},{"t":7.14,"v":-0.28},{"t":7.18,"v":-0.22},{"t":7.22,"v":-0.26},{"t":7.26,"v":-0.15},{"t":7.3,"v":-0.18},{"t":7.34,"v":-0.06},{"t":7.38,"v":-0.1},{"t":7.42,"v":0.02},{"t":7.46,"v":0},{"t":7.5,"v":0.1},{"t":7.54,"v":0.08},{"t":7.58,"v":0.18},{"t":7.62,"v":0.15},{"t":7.66,"v":0.24},{"t":7.7,"v":0.2},{"t":7.74,"v":0.3},{"t":7.78,"v":0.33},{"t":7.82,"v":0.26},{"t":7.86,"v":0.2},{"t":7.9,"v":0.08},{"t":7.94,"v":0},{"t":7.98,"v":-0.12},{"t":8.02,"v":-0.2},{"t":8.06,"v":-0.28},{"t":8.1,"v":-0.34},{"t":8.13,"v":-0.36},{"t":8.17,"v":-0.28},{"t":8.21,"v":-0.2},{"t":8.25,"v":-0.1},{"t":8.29,"v":-0.02},{"t":8.33,"v":0.06},{"t":8.37,"v":0.02},{"t":8.41,"v":0.14},{"t":8.45,"v":0.1},{"t":8.49,"v":0.22},{"t":8.53,"v":0.16},{"t":8.57,"v":0.26},{"t":8.61,"v":0.22},{"t":8.65,"v":0.3},{"t":8.69,"v":0.2},{"t":8.73,"v":0.1},{"t":8.77,"v":0},{"t":8.81,"v":-0.12},{"t":8.85,"v":-0.22},{"t":8.89,"v":-0.3},{"t":8.93,"v":-0.38},{"t":8.97,"v":-0.45},{"t":9.01,"v":-0.3},{"t":9.05,"v":-0.2},{"t":9.09,"v":-0.05},{"t":9.13,"v":-0.12},{"t":9.17,"v":0.05},{"t":9.21,"v":0},{"t":9.25,"v":0.15},{"t":9.29,"v":0.08},{"t":9.33,"v":0.22},{"t":9.37,"v":0.15},{"t":9.41,"v":0.3},{"t":9.45,"v":0.22},{"t":9.49,"v":0.35},{"t":9.53,"v":0.28},{"t":9.57,"v":0.38},{"t":9.61,"v":0.54},{"t":9.65,"v":0.3},{"t":9.69,"v":0.35},{"t":9.73,"v":0.18},{"t":9.77,"v":0.05},{"t":9.81,"v":-0.05},{"t":9.85,"v":-0.15},{"t":9.89,"v":-0.2},{"t":9.93,"v":-0.28},{"t":9.97,"v":-0.3},{"t":10,"v":-0.36}],
"cF1": [{"t":0,"v":0},{"t":0.27,"v":0.026},{"t":0.53,"v":0.13},{"t":0.97,"v":-0.08},{"t":1.42,"v":0.107},{"t":1.84,"v":-0.086},{"t":2.3,"v":0.119},{"t":2.74,"v":-0.086},{"t":3.2,"v":0.118},{"t":3.66,"v":-0.086},{"t":4.1,"v":0.111},{"t":4.54,"v":-0.08},{"t":5.03,"v":0.113},{"t":5.44,"v":-0.091},{"t":5.96,"v":0.115},{"t":6.39,"v":-0.098},{"t":6.85,"v":0.12},{"t":7.3,"v":-0.083},{"t":7.83,"v":0.111},{"t":8.24,"v":-0.089},{"t":8.74,"v":0.118},{"t":9.17,"v":-0.097},{"t":9.65,"v":0.115},{"t":10,"v":-0.045}],
"cF2": [{"t":0,"v":0},{"t":0.27,"v":-0.032},{"t":0.74,"v":0.088},{"t":1.15,"v":-0.072},{"t":1.58,"v":0.078},{"t":2.09,"v":-0.062},{"t":2.51,"v":0.073},{"t":2.99,"v":-0.058},{"t":3.44,"v":0.076},{"t":3.92,"v":-0.098},{"t":4.33,"v":0.111},{"t":4.8,"v":-0.095},{"t":5.24,"v":0.113},{"t":5.7,"v":-0.08},{"t":6.16,"v":0.105},{"t":6.65,"v":-0.117},{"t":7.11,"v":0.135},{"t":7.57,"v":-0.089},{"t":8.04,"v":0.1},{"t":8.48,"v":-0.104},{"t":8.96,"v":0.118},{"t":9.41,"v":-0.097},{"t":9.89,"v":0.116},{"t":10,"v":0.094}],
"cD": [{"t":0.51},{"t":0.75}],
"cP": [{"t":0.63,"label":"PTT=0.206s"}]
},
"vconcat": [
 {"hconcat": [
  {"hconcat": [
   {"width": 322, "height": 146, "title": {"text": "(i) Raw signal"}, "resolve": {"axis": {"y": "independent"}},
    "layer": [
     {"data": {"name": "aR1"}, "mark": {"type": "line", "strokeWidth": 1.5},
      "encoding": {"x": {"field": "t", "type": "quantitative", "scale": {"domain": [0, 10], "nice": false, "zero": false}, "axis": {"values": [2,4,6,8,10], "title": "Time (s)", "labelPadding": 5, "titlePadding": 6}},
       "y": {"field": "v", "type": "quantitative", "scale": {"domain": [-0.6, 0.6], "nice": false, "zero": false}, "axis": {"orient": "left", "values": [-0.5, 0, 0.5], "title": "Voltage (V)", "labelExpr": "datum.value == 0 ? '0' : replace(datum.label, '\u2212', '-')"}},
       "color": {"datum": "Output signal by MagWear 1", "legend": {"orient": "none", "legendX": -1, "legendY": -58, "direction": "horizontal", "columns": 2, "title": null}}}},
     {"data": {"name": "aR2"}, "mark": {"type": "line", "strokeWidth": 1.7},
      "encoding": {"x": {"field": "t", "type": "quantitative", "scale": {"domain": [0, 10]}},
       "y": {"field": "v", "type": "quantitative", "scale": {"domain": [-0.6, 0.6]}, "axis": {"orient": "right", "values": [-0.5, 0, 0.5], "labels": false, "title": null, "grid": false}},
       "color": {"datum": "Output signal by MagWear 2"}}}
    ]},
   {"width": 323, "height": 146, "title": {"text": "(i) Raw signal"}, "resolve": {"axis": {"y": "independent"}},
    "layer": [
     {"data": {"name": "bR1"}, "mark": {"type": "line", "strokeWidth": 1.5},
      "encoding": {"x": {"field": "t", "type": "quantitative", "scale": {"domain": [0, 10], "nice": false, "zero": false}, "axis": {"values": [2,4,6,8,10], "title": "Time (s)", "labelPadding": 5, "titlePadding": 6}},
       "y": {"field": "v", "type": "quantitative", "scale": {"domain": [-0.6, 0.6], "nice": false, "zero": false}, "axis": {"orient": "left", "values": [-0.5, 0, 0.5], "title": "Voltage (V)", "labelExpr": "datum.value == 0 ? '0' : replace(datum.label, '\u2212', '-')"}},
       "color": {"datum": "Output signal by MagWear 1"}}},
     {"data": {"name": "bR2"}, "mark": {"type": "line", "strokeWidth": 1.7},
      "encoding": {"x": {"field": "t", "type": "quantitative", "scale": {"domain": [0, 10]}},
       "y": {"field": "v", "type": "quantitative", "scale": {"domain": [-0.6, 0.6]}, "axis": {"orient": "right", "values": [-0.5, 0, 0.5], "labels": false, "title": null, "grid": false}},
       "color": {"datum": "Output signal by MagWear 2"}}}
    ]}
  ], "spacing": 108, "bounds": "flush"},
  {"width": 324, "height": 146, "title": {"text": "(i) Raw signal"}, "resolve": {"axis": {"y": "independent"}},
   "layer": [
    {"data": {"name": "cR1"}, "mark": {"type": "line", "strokeWidth": 1.5},
     "encoding": {"x": {"field": "t", "type": "quantitative", "scale": {"domain": [0, 10], "nice": false, "zero": false}, "axis": {"values": [2,4,6,8,10], "title": "Time (s)", "labelPadding": 5, "titlePadding": 6}},
      "y": {"field": "v", "type": "quantitative", "scale": {"domain": [-0.6, 0.6], "nice": false, "zero": false}, "axis": {"orient": "left", "values": [-0.5, 0, 0.5], "title": "Voltage (V)", "labelPadding": 10, "titlePadding": 11, "labelExpr": "datum.value == 0 ? '0' : replace(datum.label, '\u2212', '-')"}},
      "color": {"datum": "Output signal by MagWear 1"}}},
    {"data": {"name": "cR2"}, "mark": {"type": "line", "strokeWidth": 1.7},
     "encoding": {"x": {"field": "t", "type": "quantitative", "scale": {"domain": [0, 10]}},
      "y": {"field": "v", "type": "quantitative", "scale": {"domain": [-0.6, 0.6]}, "axis": {"orient": "right", "values": [-0.5, 0, 0.5], "labels": false, "title": null, "grid": false}},
      "color": {"datum": "Output signal by MagWear 2"}}}
   ]}
 ], "spacing": 49},
 {"hconcat": [
  {"hconcat": [
   {"width": 322, "height": 161, "title": {"text": "(ii) Signal after filtering", "subtitle": "(a) 5cm", "offset": 11}, "resolve": {"axis": {"y": "independent"}},
    "layer": [
     {"data": {"name": "aF1"}, "mark": {"type": "line", "strokeWidth": 1.3, "interpolate": "monotone"},
      "encoding": {"x": {"field": "t", "type": "quantitative", "scale": {"domain": [0, 10], "nice": false, "zero": false}, "axis": {"values": [2,4,6,8,10], "title": "Time (s)", "labelPadding": 8, "titlePadding": -2}},
       "y": {"field": "v", "type": "quantitative", "scale": {"domain": [-0.15, 0.15], "nice": false, "zero": false}, "axis": {"orient": "left", "values": [-0.1, 0, 0.1], "title": "Voltage (V)", "labelExpr": "datum.value == 0 ? '0' : replace(datum.label, '\u2212', '-')"}},
       "color": {"datum": "Output signal by MagWear 1"}}},
     {"data": {"name": "aF2"}, "mark": {"type": "line", "strokeWidth": 1.3, "interpolate": "monotone"},
      "encoding": {"x": {"field": "t", "type": "quantitative", "scale": {"domain": [0, 10]}},
       "y": {"field": "v", "type": "quantitative", "scale": {"domain": [-0.15, 0.15]}, "axis": {"orient": "right", "values": [-0.1, 0, 0.1], "labels": false, "title": null, "grid": false}},
       "color": {"datum": "Output signal by MagWear 2"}}},
     {"data": {"name": "aD"}, "mark": {"type": "rule", "strokeDash": [5, 3], "color": "#1a1a1a", "strokeWidth": 1.2},
      "encoding": {"x": {"field": "t", "type": "quantitative", "scale": {"domain": [0, 10]}}}},
     {"data": {"name": "aP"}, "mark": {"type": "rule", "color": "#000000", "strokeWidth": 1},
      "encoding": {"x": {"field": "t", "type": "quantitative", "scale": {"domain": [0, 10]}}, "y": {"datum": -0.153, "scale": {"domain": [-0.15, 0.15]}, "axis": null}, "y2": {"datum": -0.18}}},
     {"data": {"name": "aP"}, "mark": {"type": "point", "shape": "triangle-down", "filled": true, "color": "#000000", "size": 28, "opacity": 1},
      "encoding": {"x": {"field": "t", "type": "quantitative", "scale": {"domain": [0, 10]}}, "y": {"datum": -0.182, "scale": {"domain": [-0.15, 0.15]}, "axis": null}}},
     {"data": {"name": "aP"}, "mark": {"type": "text", "color": "#e0453d", "fontSize": 14.5, "baseline": "middle", "align": "center", "font": "Liberation Serif"},
      "encoding": {"x": {"field": "t", "type": "quantitative", "scale": {"domain": [0, 10]}}, "y": {"datum": -0.2, "scale": {"domain": [-0.15, 0.15]}, "axis": null}, "text": {"field": "label"}}}
    ]},
   {"width": 323, "height": 161, "title": {"text": "(ii) Signal after filtering", "subtitle": "(b) 10cm", "offset": 11}, "resolve": {"axis": {"y": "independent"}},
    "layer": [
     {"data": {"name": "bF1"}, "mark": {"type": "line", "strokeWidth": 1.3, "interpolate": "monotone"},
      "encoding": {"x": {"field": "t", "type": "quantitative", "scale": {"domain": [0, 10], "nice": false, "zero": false}, "axis": {"values": [2,4,6,8,10], "title": "Time (s)", "labelPadding": 8, "titlePadding": -2}},
       "y": {"field": "v", "type": "quantitative", "scale": {"domain": [-0.15, 0.15], "nice": false, "zero": false}, "axis": {"orient": "left", "values": [-0.1, 0, 0.1], "title": "Voltage (V)", "labelExpr": "datum.value == 0 ? '0' : replace(datum.label, '\u2212', '-')"}},
       "color": {"datum": "Output signal by MagWear 1"}}},
     {"data": {"name": "bF2"}, "mark": {"type": "line", "strokeWidth": 1.3, "interpolate": "monotone"},
      "encoding": {"x": {"field": "t", "type": "quantitative", "scale": {"domain": [0, 10]}},
       "y": {"field": "v", "type": "quantitative", "scale": {"domain": [-0.15, 0.15]}, "axis": {"orient": "right", "values": [-0.1, 0, 0.1], "labels": false, "title": null, "grid": false}},
       "color": {"datum": "Output signal by MagWear 2"}}},
     {"data": {"name": "bD"}, "mark": {"type": "rule", "strokeDash": [5, 3], "color": "#1a1a1a", "strokeWidth": 1.2},
      "encoding": {"x": {"field": "t", "type": "quantitative", "scale": {"domain": [0, 10]}}}},
     {"data": {"name": "bP"}, "mark": {"type": "rule", "color": "#000000", "strokeWidth": 1},
      "encoding": {"x": {"field": "t", "type": "quantitative", "scale": {"domain": [0, 10]}}, "y": {"datum": -0.153, "scale": {"domain": [-0.15, 0.15]}, "axis": null}, "y2": {"datum": -0.18}}},
     {"data": {"name": "bP"}, "mark": {"type": "point", "shape": "triangle-down", "filled": true, "color": "#000000", "size": 28, "opacity": 1},
      "encoding": {"x": {"field": "t", "type": "quantitative", "scale": {"domain": [0, 10]}}, "y": {"datum": -0.182, "scale": {"domain": [-0.15, 0.15]}, "axis": null}}},
     {"data": {"name": "bP"}, "mark": {"type": "text", "color": "#e0453d", "fontSize": 14.5, "baseline": "middle", "align": "center", "font": "Liberation Serif"},
      "encoding": {"x": {"field": "t", "type": "quantitative", "scale": {"domain": [0, 10]}}, "y": {"datum": -0.2, "scale": {"domain": [-0.15, 0.15]}, "axis": null}, "text": {"field": "label"}}}
    ]}
  ], "spacing": 108, "bounds": "flush"},
  {"width": 324, "height": 161, "title": {"text": "(ii) Signal after filtering", "subtitle": "(c) 12cm", "offset": 11}, "resolve": {"axis": {"y": "independent"}},
   "layer": [
    {"data": {"name": "cF1"}, "mark": {"type": "line", "strokeWidth": 1.3, "interpolate": "monotone"},
     "encoding": {"x": {"field": "t", "type": "quantitative", "scale": {"domain": [0, 10], "nice": false, "zero": false}, "axis": {"values": [2,4,6,8,10], "title": "Time (s)", "labelPadding": 8, "titlePadding": -2}},
      "y": {"field": "v", "type": "quantitative", "scale": {"domain": [-0.15, 0.15], "nice": false, "zero": false}, "axis": {"orient": "left", "values": [-0.1, 0, 0.1], "title": "Voltage (V)", "labelPadding": 10, "titlePadding": 11, "labelExpr": "datum.value == 0 ? '0' : replace(datum.label, '\u2212', '-')"}},
      "color": {"datum": "Output signal by MagWear 1"}}},
    {"data": {"name": "cF2"}, "mark": {"type": "line", "strokeWidth": 1.3, "interpolate": "monotone"},
     "encoding": {"x": {"field": "t", "type": "quantitative", "scale": {"domain": [0, 10]}},
      "y": {"field": "v", "type": "quantitative", "scale": {"domain": [-0.15, 0.15]}, "axis": {"orient": "right", "values": [-0.1, 0, 0.1], "labels": false, "title": null, "grid": false}},
      "color": {"datum": "Output signal by MagWear 2"}}},
    {"data": {"name": "cD"}, "mark": {"type": "rule", "strokeDash": [5, 3], "color": "#1a1a1a", "strokeWidth": 1.2},
     "encoding": {"x": {"field": "t", "type": "quantitative", "scale": {"domain": [0, 10]}}}},
    {"data": {"name": "cP"}, "mark": {"type": "rule", "color": "#000000", "strokeWidth": 1},
     "encoding": {"x": {"field": "t", "type": "quantitative", "scale": {"domain": [0, 10]}}, "y": {"datum": -0.153, "scale": {"domain": [-0.15, 0.15]}, "axis": null}, "y2": {"datum": -0.18}}},
    {"data": {"name": "cP"}, "mark": {"type": "point", "shape": "triangle-down", "filled": true, "color": "#000000", "size": 28, "opacity": 1},
     "encoding": {"x": {"field": "t", "type": "quantitative", "scale": {"domain": [0, 10]}}, "y": {"datum": -0.182, "scale": {"domain": [-0.15, 0.15]}, "axis": null}}},
    {"data": {"name": "cP"}, "mark": {"type": "text", "color": "#e0453d", "fontSize": 14.5, "baseline": "middle", "align": "center", "font": "Liberation Serif"},
     "encoding": {"x": {"field": "t", "type": "quantitative", "scale": {"domain": [0, 10]}}, "y": {"datum": -0.2, "scale": {"domain": [-0.15, 0.15]}, "axis": null}, "text": {"field": "label"}}}
   ]}
 ], "spacing": 49}
],
"spacing": 17
}
